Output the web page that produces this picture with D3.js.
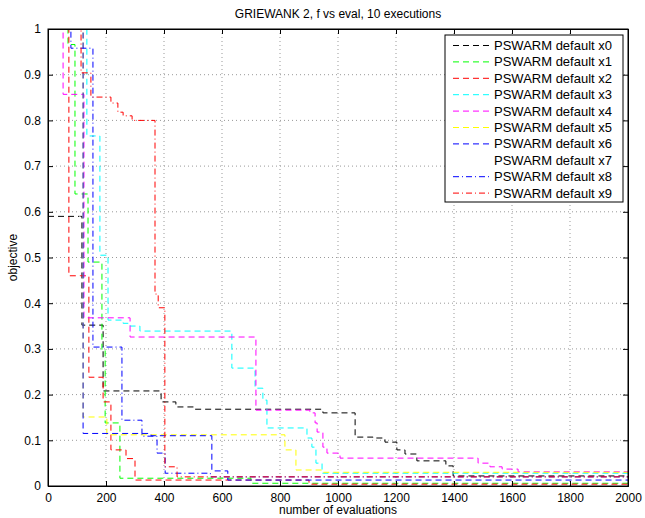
<!DOCTYPE html>
<html>
<head>
<meta charset="utf-8">
<script src="https://cdn.jsdelivr.net/npm/d3@7"></script>
<style>
  body { margin: 0; background: #fff; }
  text { font-family: "Liberation Sans", Arial, sans-serif; }
</style>
</head>
<body>
<svg id="chart"></svg>
<script>
// step data for each run: [evaluation, objective]
const run0 = [[0,0.59],[117,0.352],[190,0.208],[390,0.184],[441,0.173],[503,0.168],[948,0.16],[1059,0.107],[1121,0.105],[1162,0.096],[1203,0.079],[1231,0.07],[1272,0.055],[1372,0.044],[1397,0.022],[2000,0.022]];
const run1 = [[0,1.2],[69,0.966],[93,0.639],[138,0.49],[186,0.297],[197,0.138],[248,0.017],[700,0.006],[2000,0.006]];
const run2 = [[0,1.2],[72,0.46],[141,0.238],[190,0.184],[217,0.079],[269,0.06],[300,0.013],[900,0.004],[2000,0.004]];
const run3 = [[0,1.2],[134,0.766],[179,0.505],[207,0.363],[259,0.356],[283,0.35],[317,0.339],[634,0.258],[714,0.214],[741,0.188],[755,0.127],[893,0.105],[910,0.085],[924,0.05],[945,0.028],[2000,0.028]];
const run4 = [[0,1.2],[52,0.857],[124,0.368],[283,0.326],[717,0.166],[903,0.16],[921,0.138],[928,0.118],[948,0.085],[962,0.072],[1007,0.061],[1483,0.05],[1524,0.042],[1566,0.037],[1621,0.031],[2000,0.031]];
const run5 = [[0,1.2],[121,0.151],[203,0.112],[817,0.079],[855,0.035],[950,0.03],[2000,0.03]];
const run6 = [[0,1.2],[121,0.115],[355,0.11],[565,0.033],[620,0.013],[2000,0.013]];
const run7 = [[0,1.2],[110,0.001],[2000,0.001]];
const run8 = [[0,1.2],[79,0.958],[155,0.304],[255,0.144],[324,0.109],[376,0.072],[404,0.028],[560,0.02],[2000,0.02]];
const run9 = [[0,1.2],[114,0.904],[148,0.851],[217,0.838],[241,0.818],[259,0.81],[290,0.8],[369,0.42],[380,0.39],[403,0.042],[445,0.02],[2000,0.02]];

const runs = [run0, run1, run2, run3, run4, run5, run6, run7, run8, run9];
const names = d3.range(10).map(i => "PSWARM default x" + i);
const colors = ["#000000", "#00ff00", "#ff0000", "#00ffff", "#ff00ff", "#ffff00", "#0000ff", "#ffffff", "#0000ff", "#ff0000"];
const dashes = ["6,4", "6,4", "6,4", "6,4", "6,4", "6,4", "6,4", "6,4", "6,3,1,3", "6,3,1,3"];

const xTicks = d3.range(0, 2001, 200);
const yTicks = d3.range(0, 11).map(d => d / 10);

const width = 645, height = 518;
const margin = {top: 29, right: 17, bottom: 32, left: 48};
const innerW = width - margin.left - margin.right;
const innerH = height - margin.top - margin.bottom;

const svg = d3.select("#chart").attr("width", width).attr("height", height);

const x = d3.scaleLinear().domain([0, 2000]).range([0, innerW]);
const y = d3.scaleLinear().domain([0, 1]).range([innerH, 0]);

const g = svg.append("g").attr("transform", `translate(${margin.left},${margin.top})`);

g.append("clipPath").attr("id", "clip")
  .append("rect").attr("width", innerW).attr("height", innerH);

// dotted grid
g.append("g").selectAll("line").data(xTicks.slice(1, -1)).join("line")
  .attr("x1", d => x(d)).attr("x2", d => x(d))
  .attr("y1", 0).attr("y2", innerH)
  .attr("stroke", "#999").attr("stroke-dasharray", "1,3");
g.append("g").selectAll("line").data(yTicks.slice(1, -1)).join("line")
  .attr("x1", 0).attr("x2", innerW)
  .attr("y1", d => y(d)).attr("y2", d => y(d))
  .attr("stroke", "#999").attr("stroke-dasharray", "1,3");

// lines
const line = d3.line().x(d => x(d[0])).y(d => y(d[1])).curve(d3.curveStepAfter);
g.append("g").attr("clip-path", "url(#clip)")
  .selectAll("path").data(runs).join("path")
  .attr("d", line)
  .attr("fill", "none")
  .attr("stroke", (d, i) => colors[i])
  .attr("stroke-width", 1)
  .attr("stroke-dasharray", (d, i) => dashes[i]);

// axes (ticks inside, box around)
const xAxis = d3.axisBottom(x).tickValues(xTicks).tickSize(-5).tickPadding(7).tickFormat(d3.format("d"));
const yAxis = d3.axisLeft(y).tickValues(yTicks).tickSize(-5).tickPadding(7).tickFormat(d => d === 0 || d === 1 ? d : d3.format(".1f")(d));

const xAxisG = g.append("g").attr("transform", `translate(0,${innerH})`).call(xAxis);
const yAxisG = g.append("g").call(yAxis);
g.append("g").call(d3.axisTop(x).tickValues(xTicks).tickSize(-5).tickFormat(""));
g.append("g").attr("transform", `translate(${innerW},0)`)
  .call(d3.axisRight(y).tickValues(yTicks).tickSize(-5).tickFormat(""));

g.selectAll(".domain").attr("stroke", "#000");
g.selectAll(".tick line").attr("stroke", "#000");
g.selectAll(".tick text").attr("fill", "#000").style("font-size", "12px");

g.append("rect").attr("width", innerW).attr("height", innerH)
  .attr("fill", "none").attr("stroke", "#000");

// titles
svg.append("text").attr("x", margin.left + innerW / 2).attr("y", 18)
  .attr("text-anchor", "middle").style("font-size", "12px")
  .text("GRIEWANK 2, f vs eval, 10 executions");
svg.append("text").attr("x", margin.left + innerW / 2).attr("y", 514)
  .attr("text-anchor", "middle").style("font-size", "12px")
  .text("number of evaluations");
svg.append("text").attr("transform", `translate(17,${margin.top + innerH / 2}) rotate(-90)`)
  .attr("text-anchor", "middle").style("font-size", "12px")
  .text("objective");

// legend
const legend = svg.append("g").attr("transform", "translate(445,35)");
legend.append("rect").attr("width", 178).attr("height", 167)
  .attr("fill", "#fff").attr("stroke", "#000");
const rows = legend.selectAll(".row").data(names).join("g")
  .attr("class", "row")
  .attr("transform", (d, i) => `translate(0,${10.5 + i * 16.4})`);
rows.append("line").attr("x1", 8).attr("x2", 45)
  .attr("stroke", (d, i) => colors[i])
  .attr("stroke-dasharray", (d, i) => dashes[i]);
rows.append("text").attr("x", 49).attr("dy", "0.35em")
  .style("font-size", "13px").text(d => d);
</script>
</body>
</html>
